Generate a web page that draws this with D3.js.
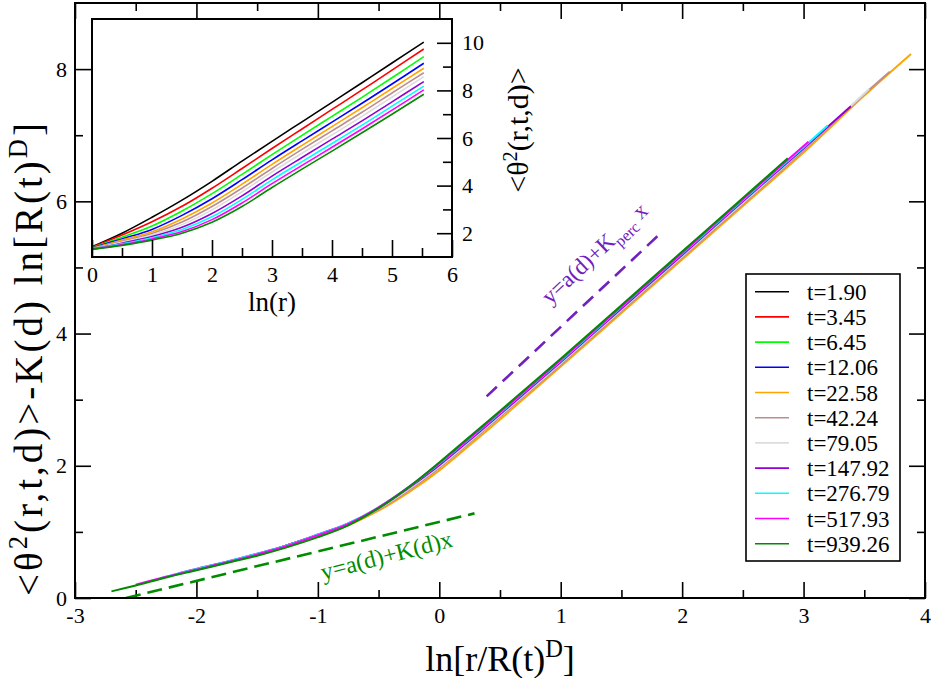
<!DOCTYPE html>
<html>
<head>
<meta charset="utf-8">
<script src="https://cdn.jsdelivr.net/npm/d3@7"></script>
<style>
body { margin: 0; background: #fff; }
svg, svg text { font-family: "Liberation Serif", "DejaVu Serif", "Times New Roman", Times, serif; }
</style>
</head>
<body>
<svg width="932" height="678"></svg>
<script>
// legend labels and colours (xmgrace palette)
var labels = ["t=1.90", "t=3.45", "t=6.45", "t=12.06", "t=22.58", "t=42.24",
              "t=79.05", "t=147.92", "t=276.79", "t=517.93", "t=939.26"];
var colors = ["#000000", "#ff0000", "#00ff00", "#0000ff", "#ffa500", "#bc8f8f",
              "#dcdcdc", "#9400d3", "#00ffff", "#ff00ff", "#008b00"];

// inset: <theta^2(r,t,d)> against ln(r)
var insetLnR    = [0, 0.5, 1, 1.5, 2, 2.5, 3, 3.5, 4, 4.5, 5, 5.53];
var inset1_90   = [1.43, 2.00, 2.67, 3.39, 4.18, 5.03, 5.86, 6.68, 7.50, 8.32, 9.15, 10.03];
var inset3_45   = [1.41, 1.92, 2.48, 3.13, 3.89, 4.72, 5.56, 6.38, 7.20, 8.02, 8.85, 9.74];
var inset6_45   = [1.39, 1.83, 2.30, 2.93, 3.66, 4.47, 5.30, 6.11, 6.91, 7.71, 8.53, 9.42];
var inset12_06  = [1.38, 1.76, 2.16, 2.75, 3.45, 4.25, 5.08, 5.88, 6.67, 7.46, 8.27, 9.14];
var inset22_58  = [1.37, 1.71, 2.06, 2.60, 3.27, 4.06, 4.89, 5.69, 6.48, 7.27, 8.08, 8.93];
var inset42_24  = [1.36, 1.66, 1.99, 2.47, 3.12, 3.89, 4.72, 5.52, 6.30, 7.08, 7.89, 8.74];
var inset79_05  = [1.35, 1.62, 1.92, 2.36, 2.98, 3.74, 4.57, 5.36, 6.13, 6.91, 7.72, 8.58];
var inset147_92 = [1.34, 1.58, 1.86, 2.25, 2.83, 3.57, 4.40, 5.18, 5.95, 6.72, 7.52, 8.37];
var inset276_79 = [1.33, 1.55, 1.81, 2.16, 2.69, 3.42, 4.24, 5.01, 5.77, 6.54, 7.34, 8.18];
var inset517_93 = [1.33, 1.52, 1.76, 2.07, 2.57, 3.27, 4.08, 4.85, 5.61, 6.38, 7.17, 8.02];
var inset939_26 = [1.32, 1.49, 1.71, 2.00, 2.46, 3.12, 3.92, 4.69, 5.45, 6.22, 7.00, 7.84];

// main plot: rescaled curves [ln(r/R^D), <theta^2> - K ln R^D]
var main1_90 = [[-1.45,0.68],[-1.25,0.80],[-1,0.95],[-0.75,1.11],[-0.5,1.35],[-0.25,1.65],[0,2.00],
                [0.25,2.38],[0.5,2.77],[1,3.56],[1.5,4.37],[2,5.18],[2.5,5.99],[2.8,6.47]];
var main3_45 = [[-1.3,0.77],[-1,0.95],[-0.75,1.11],[-0.5,1.35],[-0.25,1.65],[0,2.00],[0.25,2.38],
                [0.5,2.77],[1,3.56],[1.5,4.37],[2,5.17],[2.5,5.98],[2.75,6.39]];
var main6_45 = [[-1.15,0.86],[-1,0.95],[-0.75,1.11],[-0.5,1.34],[-0.25,1.64],[0,1.99],[0.25,2.37],
                [0.5,2.76],[1,3.55],[1.5,4.36],[2,5.17],[2.5,5.98],[2.7,6.31]];
var main12_06 = [[-1,0.95],[-0.75,1.11],[-0.5,1.34],[-0.25,1.64],[0,1.98],[0.25,2.36],[0.5,2.75],
                 [1,3.54],[1.5,4.35],[2,5.16],[2.5,5.97],[2.65,6.22]];
var main22_58 = [[-1.62,0.60],[-1.5,0.65],[-1.25,0.78],[-1,0.93],[-0.75,1.10],[-0.5,1.32],[-0.25,1.60],
                 [0,1.93],[0.25,2.31],[0.5,2.70],[1,3.50],[1.5,4.31],[2,5.12],[2.5,5.93],[3,6.74],
                 [3.5,7.60],[3.885,8.23]];
var main42_24 = [[-1.8,0.52],[-1.5,0.66],[-1.25,0.79],[-1,0.94],[-0.75,1.11],[-0.5,1.34],[-0.25,1.63],
                 [0,1.97],[0.25,2.35],[0.5,2.74],[1,3.53],[1.5,4.34],[2,5.15],[2.5,5.96],[3,6.77],
                 [3.5,7.62],[3.71,7.96]];
var main79_05 = [[-1.95,0.46],[-1.75,0.55],[-1.5,0.67],[-1.25,0.80],[-1,0.95],[-0.75,1.12],[-0.5,1.35],
                 [-0.25,1.65],[0,1.99],[0.25,2.37],[0.5,2.76],[1,3.55],[1.5,4.36],[2,5.17],[2.5,5.98],
                 [3,6.79],[3.54,7.70]];
var main147_92 = [[-2.15,0.37],[-2,0.44],[-1.75,0.55],[-1.5,0.67],[-1.25,0.80],[-1,0.96],[-0.75,1.13],
                  [-0.5,1.36],[-0.25,1.67],[0,2.01],[0.25,2.39],[0.5,2.78],[1,3.57],[1.5,4.38],[2,5.19],
                  [2.5,6.00],[3,6.80],[3.39,7.44]];
var main276_79 = [[-2.3,0.30],[-2,0.44],[-1.75,0.55],[-1.5,0.67],[-1.25,0.80],[-1,0.96],[-0.75,1.13],
                  [-0.5,1.37],[-0.25,1.68],[0,2.03],[0.25,2.41],[0.5,2.80],[1,3.59],[1.5,4.40],[2,5.21],
                  [2.5,6.02],[3,6.82],[3.2,7.15]];
var main517_93 = [[-2.5,0.20],[-2.25,0.32],[-2,0.43],[-1.75,0.54],[-1.5,0.66],[-1.25,0.79],[-1,0.95],
                  [-0.75,1.12],[-0.5,1.37],[-0.25,1.68],[0,2.04],[0.25,2.42],[0.5,2.81],[1,3.60],
                  [1.5,4.41],[2,5.22],[2.5,6.03],[3.04,6.90]];
var main939_26 = [[-2.7,0.10],[-2.5,0.19],[-2.25,0.31],[-2,0.42],[-1.75,0.53],[-1.5,0.64],[-1.25,0.77],
                  [-1,0.92],[-0.75,1.10],[-0.5,1.36],[-0.25,1.68],[0,2.05],[0.25,2.44],[0.5,2.83],
                  [1,3.62],[1.5,4.43],[2,5.24],[2.5,6.05],[2.87,6.65]];

// guide lines
var smallFit = [[-2.58, 0.0], [0.29, 1.28]];
var percFit  = [[0.39, 3.05], [1.83, 5.53]];

var insetSeries = [inset1_90, inset3_45, inset6_45, inset12_06, inset22_58, inset42_24,
                   inset79_05, inset147_92, inset276_79, inset517_93, inset939_26];
var mainSeries = [main1_90, main3_45, main6_45, main12_06, main22_58, main42_24,
                  main79_05, main147_92, main276_79, main517_93, main939_26];

var serif = "'Liberation Serif', 'DejaVu Serif', 'Times New Roman', Times, serif";
var svg = d3.select("svg").attr("font-family", serif);
var green4 = "#008b00";
var indigo = "#7221bc";

var x = d3.scaleLinear().domain([-3, 4]).range([75, 925]);
var y = d3.scaleLinear().domain([0, 9]).range([598, 3]);
var ix = d3.scaleLinear().domain([0, 6]).range([92, 452]);
var iy = d3.scaleLinear().domain([1, 11]).range([257, 19]);

function styleAxis(g, size) {
    g.attr("font-family", serif).attr("font-size", size);
    g.select(".domain").remove();
    g.selectAll("line").attr("stroke", "#000").attr("stroke-width", 1.6);
    g.selectAll("text").attr("fill", "#000");
}

function fmt(d) { return String(d); }

// text with superscripts; optionally spaced out to a given length
function supText(t, parts, F, length) {
    t.attr("font-size", F);
    var up = false, n = 0;
    parts.forEach(function(p) {
        var s = t.append("tspan").text(p[0]);
        n += p[0].length;
        if (p[1]) { s.attr("font-size", F * 0.68).attr("dy", -F * 0.38); up = true; }
        else if (up) { s.attr("dy", F * 0.38); up = false; }
    });
    if (length) {
        var len = t.node().getComputedTextLength();
        if (len > 0 && len < length) t.attr("letter-spacing", (length - len) / n);
    }
}

// main axes, ticks inward on all sides
var xMajor = d3.range(-3, 4.01, 1), xMinor = d3.range(-2.5, 3.6, 1);
var yMajor = [0, 2, 4, 6, 8], yMinor = [1, 3, 5, 7];

svg.append("g").attr("transform", "translate(0,598)")
    .call(d3.axisBottom(x).tickValues(xMajor).tickSize(-16).tickPadding(9).tickFormat(fmt))
    .call(styleAxis, 22);
svg.append("g").attr("transform", "translate(0,598)")
    .call(d3.axisBottom(x).tickValues(xMinor).tickSize(-8).tickFormat(""))
    .call(styleAxis, 22);
svg.append("g").attr("transform", "translate(0,3)")
    .call(d3.axisTop(x).tickValues(xMajor).tickSize(-16).tickFormat(""))
    .call(styleAxis, 22);
svg.append("g").attr("transform", "translate(0,3)")
    .call(d3.axisTop(x).tickValues(xMinor).tickSize(-8).tickFormat(""))
    .call(styleAxis, 22);
svg.append("g").attr("transform", "translate(75,0)")
    .call(d3.axisLeft(y).tickValues(yMajor).tickSize(-16).tickPadding(8).tickFormat(fmt))
    .call(styleAxis, 22);
svg.append("g").attr("transform", "translate(75,0)")
    .call(d3.axisLeft(y).tickValues(yMinor).tickSize(-8).tickFormat(""))
    .call(styleAxis, 22);
svg.append("g").attr("transform", "translate(925,0)")
    .call(d3.axisRight(y).tickValues(yMajor).tickSize(-16).tickFormat(""))
    .call(styleAxis, 22);
svg.append("g").attr("transform", "translate(925,0)")
    .call(d3.axisRight(y).tickValues(yMinor).tickSize(-8).tickFormat(""))
    .call(styleAxis, 22);

// main curves
var line = d3.line().x(function(d) { return x(d[0]); })
    .y(function(d) { return y(d[1]); }).curve(d3.curveCatmullRom.alpha(0.5));

svg.append("g").selectAll("path").data(mainSeries).enter().append("path")
    .attr("d", line).attr("fill", "none").attr("stroke-width", 2)
    .attr("stroke", function(d, i) { return colors[i]; });

// dashed guides
var straight = d3.line().x(function(d) { return x(d[0]); }).y(function(d) { return y(d[1]); });
svg.append("path").datum(smallFit).attr("d", straight)
    .attr("fill", "none").attr("stroke", green4).attr("stroke-width", 2.6).attr("stroke-dasharray", "15,7");
svg.append("path").datum(percFit).attr("d", straight)
    .attr("fill", "none").attr("stroke", indigo).attr("stroke-width", 2.6).attr("stroke-dasharray", "14,8");

svg.append("text").attr("transform", "translate(" + x(-0.957) + "," + y(0.27) + ") rotate(-14.5)")
    .attr("fill", green4).attr("font-size", 24).text("y=a(d)+K(d)x");

var perc = svg.append("text").attr("transform", "translate(" + x(0.913) + "," + y(4.43) + ") rotate(-43)")
    .attr("fill", indigo).attr("font-size", 23);
perc.append("tspan").text("y=a(d)+K");
perc.append("tspan").attr("dy", 6).attr("font-size", 16).text("perc");
perc.append("tspan").attr("dy", -6).text(" x");

// main frame
svg.append("rect").attr("x", 75).attr("y", 3).attr("width", 850).attr("height", 595)
    .attr("fill", "none").attr("stroke", "#000").attr("stroke-width", 2);

// axis titles
var xt = svg.append("text").attr("x", 500).attr("y", 671).attr("text-anchor", "middle");
supText(xt, [["ln[r/R(t)"], ["D", true], ["]"]], 36);

var yt = svg.append("text").attr("transform", "translate(42,358) rotate(-90)")
    .attr("text-anchor", "middle");
supText(yt, [["<θ"], ["2", true], ["(r,t,d)>-K(d) ln[R(t)"], ["D", true], ["]"]], 39, 476);

// legend
var lg = svg.append("g");
lg.append("rect").attr("x", 746).attr("y", 274).attr("width", 154).attr("height", 287)
    .attr("fill", "#fff").attr("stroke", "#000").attr("stroke-width", 1.6);
var rows = lg.selectAll("g.row").data(labels).enter().append("g").attr("class", "row")
    .attr("transform", function(d, i) { return "translate(0," + (291.7 + i * 25.2) + ")"; });
rows.append("line").attr("x1", 755).attr("x2", 789)
    .attr("stroke", function(d, i) { return colors[i]; }).attr("stroke-width", 1.6);
rows.append("text").attr("x", 807).attr("y", 8).attr("font-size", 23).text(function(d) { return d; });

// inset
var inset = svg.append("g");
inset.append("rect").attr("x", 92).attr("y", 19).attr("width", 360).attr("height", 238)
    .attr("fill", "#fff");

var iline = d3.line().x(function(d, i) { return ix(insetLnR[i]); })
    .y(function(d) { return iy(d); }).curve(d3.curveCatmullRom.alpha(0.5));
inset.append("g").selectAll("path").data(insetSeries).enter().append("path")
    .attr("d", iline).attr("fill", "none").attr("stroke-width", 1.6)
    .attr("stroke", function(d, i) { return colors[i]; });

inset.append("g").attr("transform", "translate(0,257)")
    .call(d3.axisBottom(ix).tickValues(d3.range(0, 6.01, 1)).tickSize(-17).tickPadding(9).tickFormat(fmt))
    .call(styleAxis, 22);
inset.append("g").attr("transform", "translate(0,257)")
    .call(d3.axisBottom(ix).tickValues(d3.range(0.5, 5.6, 1)).tickSize(-9).tickFormat(""))
    .call(styleAxis, 22);
inset.append("g").attr("transform", "translate(452,0)")
    .call(d3.axisRight(iy).tickValues([2, 4, 6, 8, 10]).tickSize(-15).tickPadding(10).tickFormat(fmt))
    .call(styleAxis, 22);
inset.append("g").attr("transform", "translate(452,0)")
    .call(d3.axisRight(iy).tickValues([3, 5, 7, 9]).tickSize(-9).tickFormat(""))
    .call(styleAxis, 22);

inset.append("rect").attr("x", 92).attr("y", 19).attr("width", 360).attr("height", 238)
    .attr("fill", "none").attr("stroke", "#000").attr("stroke-width", 2);

inset.append("text").attr("x", 272).attr("y", 311).attr("text-anchor", "middle")
    .attr("font-size", 27).text("ln(r)");

var it = inset.append("text").attr("transform", "translate(528,130) rotate(-90)")
    .attr("text-anchor", "middle");
supText(it, [["<θ"], ["2", true], ["(r,t,d)>"]], 30);
</script>
</body>
</html>
